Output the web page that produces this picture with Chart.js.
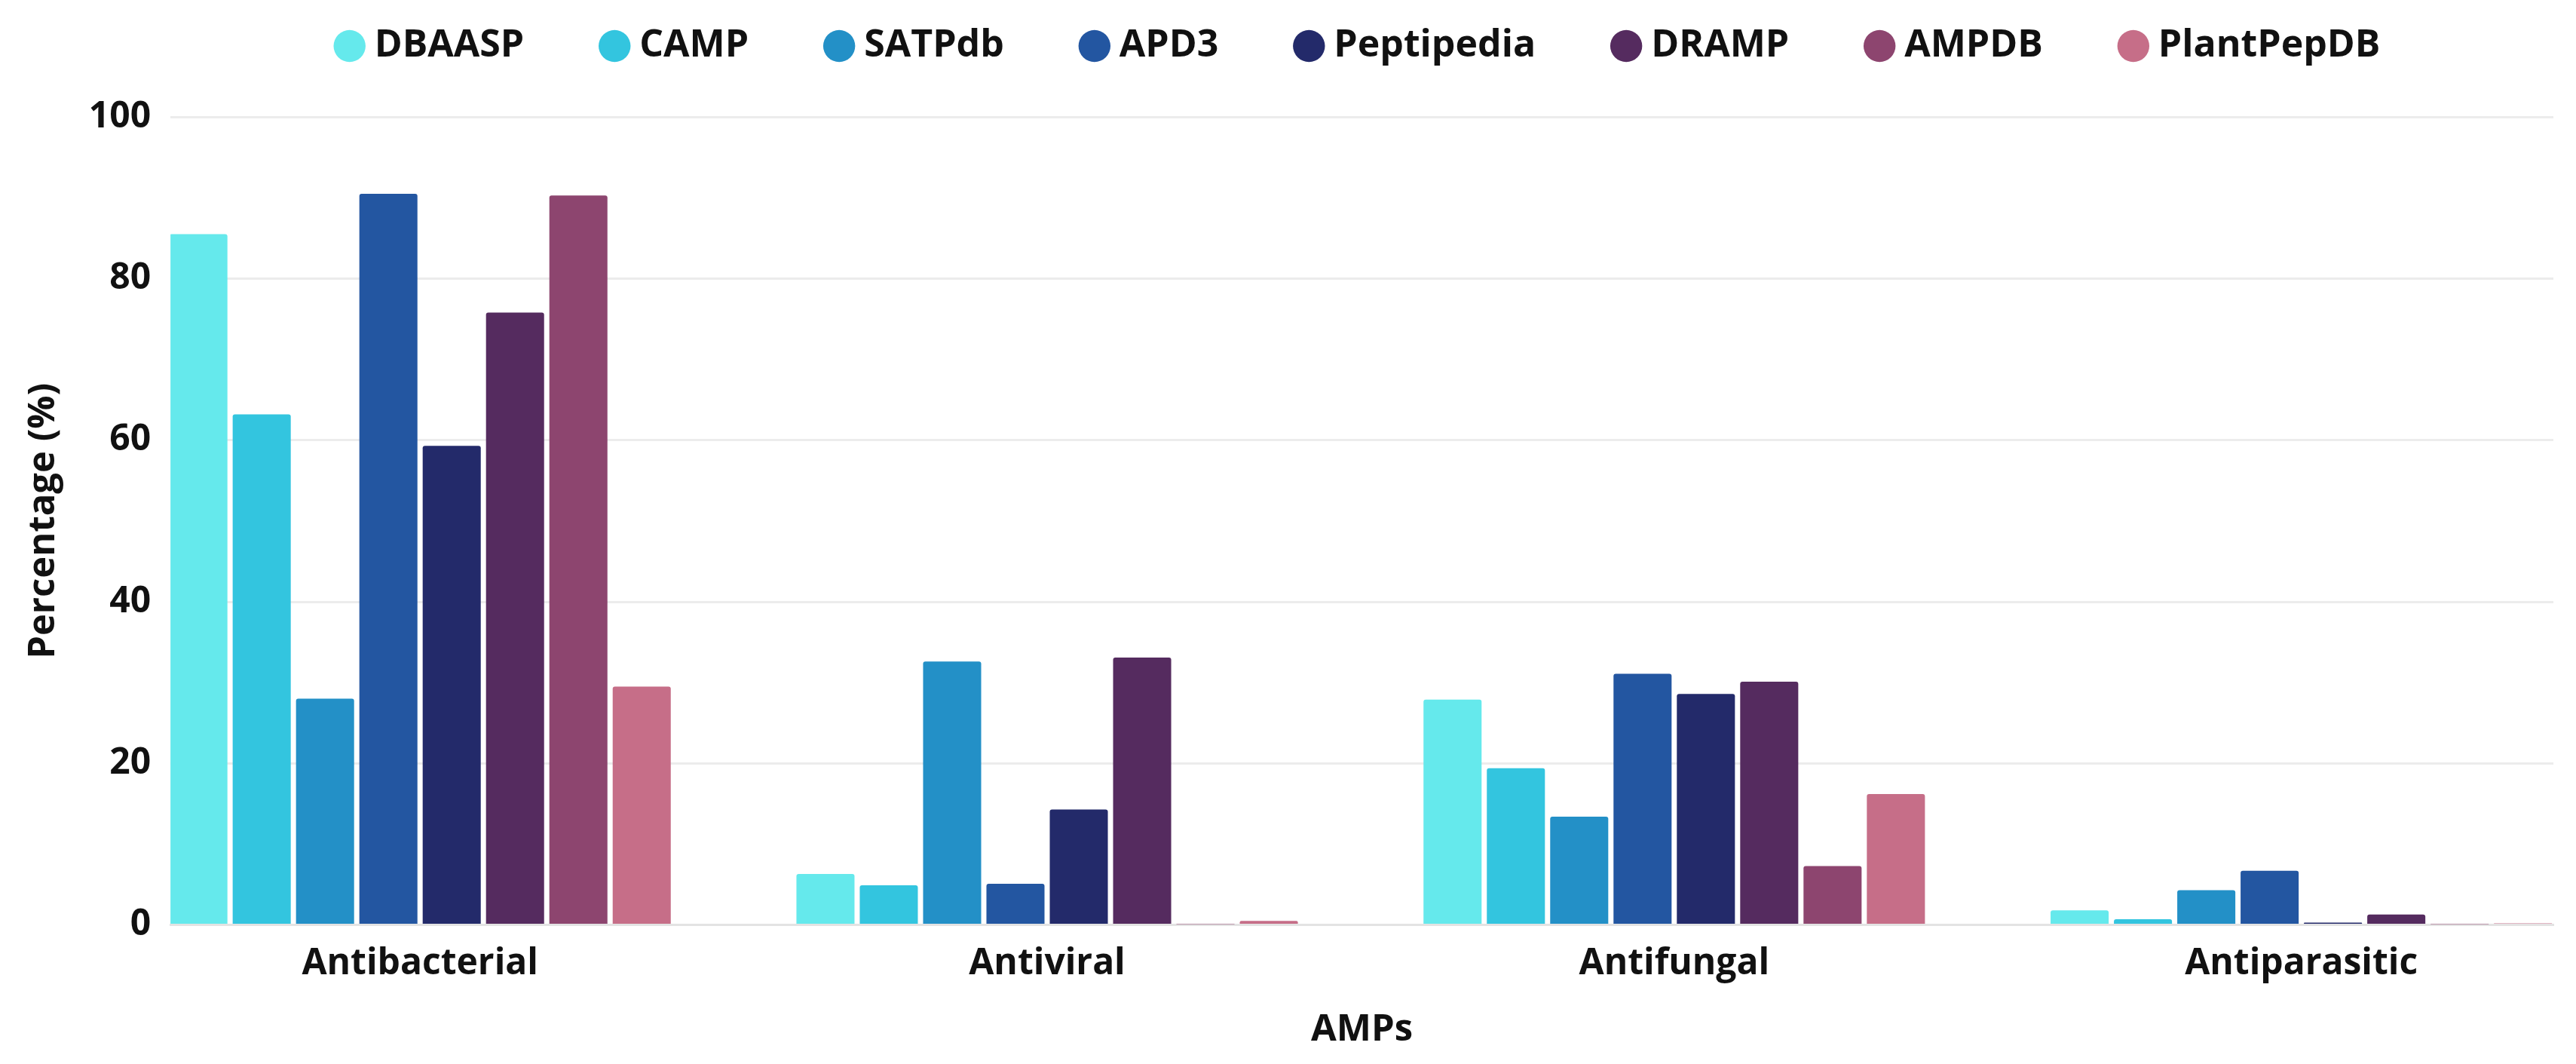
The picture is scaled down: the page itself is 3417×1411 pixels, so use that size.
<!DOCTYPE html>
<html lang="en">
<head>
<meta charset="UTF-8">
<title>AMPs por base de datos</title>
<script src="https://cdn.jsdelivr.net/npm/chart.js"></script>
<style>
  html, body { margin: 0; padding: 0; background: #ffffff; }
  #wrap { width: 3417px; height: 1411px; position: relative; }
</style>
</head>
<body>
<div id="wrap"><canvas id="ampChart"></canvas></div>
<script>
// categorias del eje x
const categories = ['Antibacterial', 'Antiviral', 'Antifungal', 'Antiparasitic'];
const databases = ['DBAASP', 'CAMP', 'SATPdb', 'APD3', 'Peptipedia', 'DRAMP', 'AMPDB', 'PlantPepDB'];

// porcentajes por base de datos (mismo orden que categories)
const dbaasp     = [85.5, 6.3, 27.9, 1.8];
const camp       = [63.2, 4.9, 19.4, 0.7];
const satpdb     = [28.0, 32.6, 13.4, 4.3];
const apd3       = [90.5, 5.1, 31.1, 6.7];
const peptipedia = [59.3, 14.3, 28.6, 0.3];
const dramp      = [75.8, 33.1, 30.1, 1.3];
const ampdb      = [90.3, 0.1, 7.3, 0.1];
const plantpepdb = [29.5, 0.5, 16.2, 0.2];

const yTicks = [0, 20, 40, 60, 80, 100];

const seriesValues = [dbaasp, camp, satpdb, apd3, peptipedia, dramp, ampdb, plantpepdb];
const colors = ['#65E9EC', '#33C5DF', '#2390C7', '#2356A1', '#232A6A', '#552B5F', '#8D456F', '#C66E88'];

const font = (size) => ({ family: "'Open Sans', sans-serif", size: size, weight: 'bold' });

const datasets = databases.map((name, k) => ({
    label: name,
    data: seriesValues[k].map((v, i) => ({ x: i, y: v })),
    backgroundColor: colors[k],
    borderWidth: 0,
    borderRadius: 3,
    borderSkipped: 'bottom',
    categoryPercentage: 0.808,
    barPercentage: 0.917
}));

new Chart(document.getElementById('ampChart'), {
    type: 'bar',
    data: { datasets: datasets },
    options: {
        responsive: true,
        maintainAspectRatio: false,
        animation: false,
        layout: { padding: { top: -76, left: 25, right: 30, bottom: 12 } },
        plugins: {
            legend: {
                position: 'top',
                fullSize: false,
                weight: 3000,
                labels: {
                    usePointStyle: true,
                    pointStyle: 'circle',
                    boxWidth: 16,
                    boxHeight: 30,
                    padding: 112,
                    color: '#111111',
                    font: font(50)
                }
            },
            // espacio vacio entre la leyenda y el grafico
            title: { display: true, text: '', padding: { top: 58, bottom: 0 }, font: { size: 1 } },
            tooltip: { enabled: false }
        },
        scales: {
            x: {
                type: 'linear',
                offset: false,
                min: -0.398,
                max: 3.402,
                afterBuildTicks: (scale) => { scale.ticks = categories.map((c, i) => ({ value: i })); },
                ticks: {
                    autoSkip: false,
                    maxRotation: 0,
                    padding: 15,
                    color: '#111111',
                    font: font(48),
                    callback: (v) => categories[v]
                },
                grid: { display: false, offset: false },
                border: { display: true, color: '#e3e3e3', width: 3 },
                title: { display: true, text: 'AMPs', color: '#111111', font: font(49), padding: { top: 14 } }
            },
            y: {
                min: 0,
                max: 100,
                afterBuildTicks: (scale) => { scale.ticks = yTicks.map(v => ({ value: v })); },
                ticks: { padding: 26, color: '#111111', font: font(48) },
                grid: { color: '#ececec', lineWidth: 3, drawTicks: false },
                border: { display: false },
                title: { display: true, text: 'Percentage (%)', color: '#111111', font: font(49), padding: { bottom: 4 } }
            }
        }
    }
});
</script>
</body>
</html>
